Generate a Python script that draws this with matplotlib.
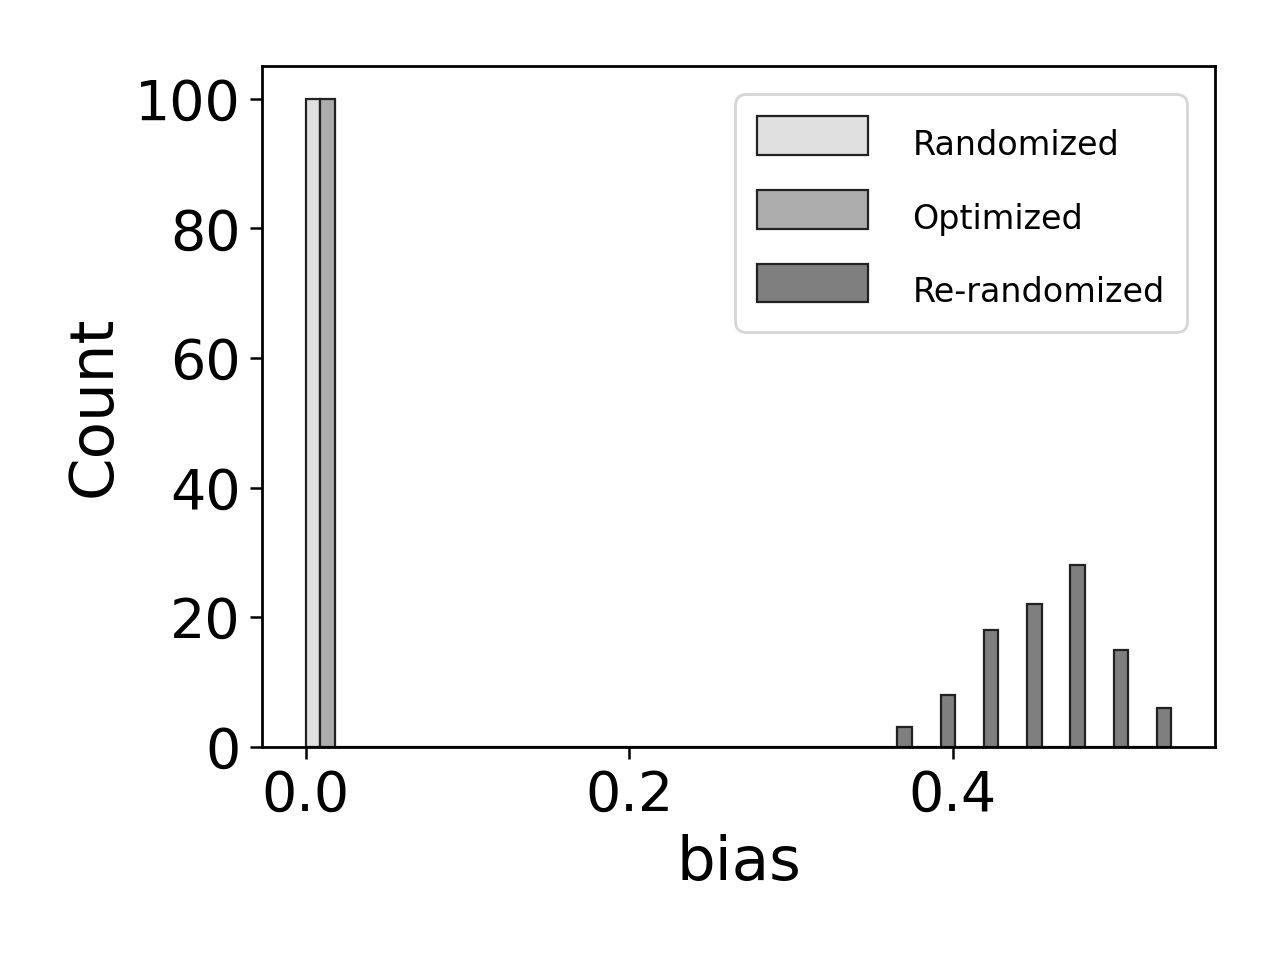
import numpy as np
import matplotlib
matplotlib.use("Agg")
import matplotlib.pyplot as plt

# histogram data: 20 equal bins from 0 to the largest bias
bias_max = 0.535
n_bins = 20
labels = ["Randomized", "Optimized", "Re-randomized"]
colors = ["#e0e0e0", "#adadad", "#7f7f7f"]

# counts per bin for each method
randomized_counts = [100] + [0] * 19
optimized_counts = [100] + [0] * 19
rerandomized_counts = [0] * 13 + [3, 8, 18, 22, 28, 15, 6]

plt.rcParams["font.size"] = 20
plt.rcParams["axes.linewidth"] = 1.0
plt.rcParams["xtick.major.size"] = 4.3
plt.rcParams["ytick.major.size"] = 4.3
plt.rcParams["xtick.major.width"] = 0.9
plt.rcParams["ytick.major.width"] = 0.9

edges = np.linspace(0, bias_max, n_bins + 1)
centers = 0.5 * (edges[:-1] + edges[1:])

fig = plt.figure(figsize=(6.4, 4.8), dpi=200)
ax = fig.add_axes([0.205, 0.222, 0.744, 0.709])

ax.hist([centers, centers, centers], bins=edges,
        weights=[randomized_counts, optimized_counts, rerandomized_counts],
        color=colors, label=labels, rwidth=1.0,
        edgecolor="#222222", linewidth=0.8)

ax.set_xlabel("bias", fontsize=22)
ax.set_ylabel("Count", fontsize=22)
ax.set_xticks([0.0, 0.2, 0.4])
ax.set_yticks([0, 20, 40, 60, 80, 100])

leg = ax.legend(loc="upper right")
for t in leg.get_texts():
    t.set_fontsize(12)

fig.savefig("out.png", dpi=200)
